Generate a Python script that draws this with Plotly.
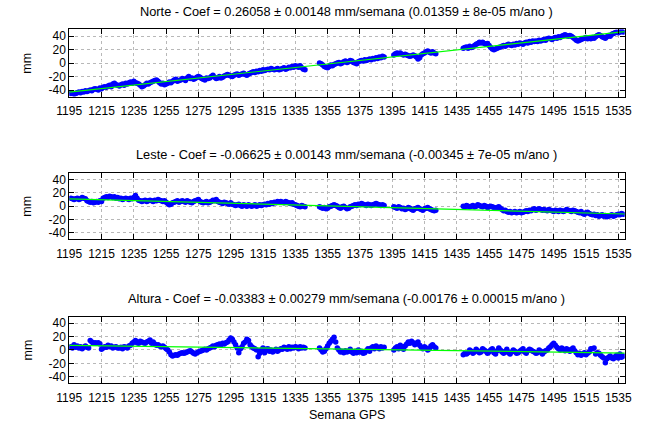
import plotly.graph_objects as go

# ---------------- data ----------------
seg_ranges = [(1196, 1341), (1350, 1390), (1396, 1422), (1439, 1538)]
weeks = []
for a, b in seg_ranges:
    weeks += list(range(a, b + 1))

norte = [
    -45,-44,-46,-45,-44,-43,-44,-42,-43,-41,
    -42,-41,-40,-41,-39,-38,-39,-40,-37,-38,
    -36,-35,-36,-34,-33,-35,-31,-30,-32,-33,
    -34,-32,-31,-33,-30,-31,-29,-28,-30,-27,
    -29,-30,-31,-33,-35,-34,-32,-30,-31,-29,
    -28,-27,-26,-25,-27,-29,-31,-30,-32,-31,
    -30,-28,-29,-27,-25,-24,-27,-26,-25,-23,
    -24,-26,-22,-20,-23,-22,-24,-23,-21,-20,
    -21,-23,-24,-25,-22,-23,-22,-20,-18,-21,
    -23,-22,-20,-22,-21,-19,-18,-17,-18,-19,
    -20,-18,-17,-16,-18,-17,-16,-15,-17,-18,
    -16,-15,-14,-13,-14,-12,-13,-11,-12,-10,
    -11,-10,-9,-10,-8,-9,-10,-9,-8,-10,
    -9,-8,-7,-9,-8,-6,-7,-5,-6,-4,
    -5,-6,-4,-7,-9,-10,
    # 1350-1390
    0,-1,-3,-5,-6,-7,-5,-3,-4,-2,
    -1,0,1,-1,0,2,3,1,2,4,
    3,1,0,-1,2,3,4,3,5,4,
    5,6,5,7,6,8,7,9,8,10,
    9,
    # 1396-1422
    12,14,15,14,15,13,12,13,12,11,
    10,11,12,11,9,6,8,12,14,15,
    17,18,16,15,17,15,14,
    # 1439-1538
    22,23,24,22,25,23,24,26,28,29,
    31,30,31,29,28,29,26,23,21,20,
    21,22,23,24,25,26,25,27,28,27,
    26,28,27,29,28,30,29,28,30,31,
    30,32,31,33,32,33,32,34,33,34,
    35,34,36,37,36,35,37,38,37,39,
    38,40,41,42,41,40,41,40,38,36,
    34,33,34,35,36,37,38,36,37,36,
    38,37,39,41,42,41,39,38,37,39,
    41,40,43,44,45,46,45,46,47,46,
]

leste = [
    12,11,10,11,12,10,11,13,12,11,
    8,7,6,7,5,6,7,6,8,7,
    12,13,14,13,15,14,13,14,12,13,
    11,12,10,11,12,11,10,12,11,13,
    16,12,9,8,7,8,9,7,8,9,
    8,7,9,8,10,9,8,7,8,6,
    4,2,3,5,6,7,8,6,7,8,
    7,6,8,7,6,5,7,8,9,10,
    7,6,5,6,7,5,6,7,9,8,
    10,7,6,5,4,6,5,4,3,5,
    3,2,1,2,3,1,0,2,1,0,
    2,1,0,1,2,0,1,2,1,2,
    3,2,4,3,5,4,6,5,7,6,
    7,6,5,7,6,5,4,5,3,2,
    1,0,-1,1,0,-1,
    # 1350-1390
    -1,-2,-3,-2,-4,-3,-1,0,1,2,
    1,0,-2,-3,-1,0,-2,-4,-3,-1,
    0,1,2,1,3,2,4,3,2,1,
    3,2,1,2,3,4,3,2,1,2,
    1,
    # 1396-1422
    -1,-2,-3,-1,-2,-4,-3,-5,-4,-2,
    -3,-5,-6,-4,-3,-2,-4,-5,-6,-4,
    -3,-2,-4,-5,-6,-7,-6,
    # 1439-1538
    0,-1,1,0,-1,0,1,-1,0,2,
    1,0,-1,1,0,-2,-1,0,-1,-2,
    -3,-2,-1,-3,-5,-7,-6,-8,-9,-8,
    -10,-9,-8,-10,-9,-8,-10,-9,-8,-7,
    -8,-6,-7,-5,-4,-6,-5,-4,-5,-6,
    -5,-6,-7,-5,-6,-7,-8,-6,-7,-8,
    -6,-7,-8,-7,-5,-6,-7,-8,-6,-7,
    -8,-9,-10,-8,-11,-12,-10,-9,-11,-12,
    -13,-12,-14,-13,-15,-14,-13,-15,-14,-16,
    -15,-14,-13,-15,-14,-13,-12,-13,-11,-12,
]

altura = [
    5,3,8,4,6,3,5,2,4,6,
    4,3,14,12,10,11,10,11,9,1,
    3,5,4,7,5,6,3,4,5,3,
    3,4,2,5,4,3,6,7,10,12,
    14,11,10,13,12,11,10,12,13,15,
    10,12,9,7,8,6,5,6,4,2,
    0,-3,-7,-9,-8,-7,-8,-6,-5,-4,
    -5,-4,-3,-2,-1,-3,-5,-6,-4,-3,
    -2,-1,0,1,0,2,3,4,6,5,
    7,8,9,8,10,9,11,12,15,18,
    16,12,8,3,-4,2,5,10,12,16,
    14,8,5,3,2,0,-10,-5,0,3,
    -4,1,2,-2,0,-3,-1,1,-2,0,
    2,1,4,3,1,5,2,4,3,5,
    4,2,5,3,4,3,
    # 1350-1390
    3,0,-3,-2,2,6,10,13,16,19,
    12,3,0,-3,-2,-4,-1,-3,-2,1,
    -3,-5,-2,-4,0,-3,-2,-5,-4,-1,
    2,-2,3,5,2,6,4,2,5,3,
    4,
    # 1396-1422
    0,3,5,2,7,4,1,6,9,12,
    10,13,11,8,10,12,7,4,2,5,
    3,0,2,6,8,5,3,
    # 1439-1538
    -7,-5,-6,-4,0,-2,-5,-3,1,-1,
    -4,-3,2,0,-2,-5,-3,0,2,-4,
    -6,-1,3,0,-3,-5,-2,1,-4,-6,
    -3,0,-2,-5,-4,-2,0,2,-3,-5,
    -1,1,0,-2,-3,-5,-4,0,-2,-6,
    -3,-1,0,3,5,8,10,7,4,2,
    0,3,1,-1,2,0,-2,1,3,-1,
    -4,-7,-5,-8,-6,-4,-7,-5,-3,2,
    2,3,-6,-4,-5,-8,-10,-12,-19,-13,
    -11,-9,-12,-13,-10,-8,-12,-6,-11,-9,
]

# fit: value at week 1195 and slope (mm/semana)
fit_start = [-43.0, 11.0, 7.0]
fit_slope = [0.26058, -0.06625, -0.03383]
fit_weeks = [1195, 1539]

titles = [
    "Norte - Coef = 0.26058 \u00b1 0.00148 mm/semana (0.01359 \u00b1 8e-05 m/ano )",
    "Leste - Coef = -0.06625 \u00b1 0.00143 mm/semana (-0.00345 \u00b1 7e-05 m/ano )",
    "Altura - Coef = -0.03383 \u00b1 0.00279 mm/semana (-0.00176 \u00b1 0.00015 m/ano )",
]
xticks = list(range(1195, 1536, 20))
yticks = [-40, -20, 0, 20, 40]

series = [norte, leste, altura]
for s in series:
    assert len(s) == len(weeks), (len(s), len(weeks))

# ---------------- figure ----------------
W, H = 655, 427
px_left, px_right = 58, 631
panel_px = [(29.5, 97), (173.3, 240), (317.3, 384.3)]  # top, bottom in px
title_px = [12, 155, 299]

FONT = "Liberation Sans, Arial, Helvetica, sans-serif"
TICK = 12
fig = go.Figure()

for i, vals in enumerate(series):
    xa = "x" if i == 0 else f"x{i+1}"
    ya = "y" if i == 0 else f"y{i+1}"
    fig.add_trace(go.Scatter(
        x=weeks, y=vals, mode="markers", xaxis=xa, yaxis=ya,
        marker=dict(color="#0000ff", size=5.5, symbol="circle", line=dict(width=0)),
        showlegend=False, hoverinfo="skip"))
    fy = [fit_start[i] + fit_slope[i] * (w - fit_weeks[0]) for w in fit_weeks]
    fig.add_trace(go.Scatter(
        x=fit_weeks, y=fy, mode="lines", xaxis=xa, yaxis=ya,
        line=dict(color="#00ff00", width=1.2),
        showlegend=False, hoverinfo="skip"))

layout = dict(
    width=W, height=H, margin=dict(l=0, r=0, t=0, b=0),
    paper_bgcolor="white", plot_bgcolor="white",
    font=dict(family=FONT, size=TICK, color="#000000"),
)
annotations = []
xdom = [px_left / W, px_right / W]
for i in range(3):
    top, bot = panel_px[i]
    ydom = [1 - bot / H, 1 - top / H]
    xk = "xaxis" if i == 0 else f"xaxis{i+1}"
    yk = "yaxis" if i == 0 else f"yaxis{i+1}"
    yref = "y" if i == 0 else f"y{i+1}"
    layout[xk] = dict(
        domain=xdom, range=[1195, 1539], anchor=yref,
        tickvals=xticks, ticktext=[str(t) for t in xticks],
        ticks="inside", ticklen=5, tickcolor="#000000",
        showline=True, linecolor="#000000", linewidth=1, mirror="ticks",
        showgrid=True, gridcolor="#b8b8b8", griddash="dot", gridwidth=1,
        zeroline=False, tickfont=dict(size=TICK, family=FONT),
        ticklabelstandoff=3,
    )
    layout[yk] = dict(
        domain=ydom, range=[-50, 50], anchor="x" if i == 0 else f"x{i+1}",
        tickvals=yticks, ticktext=[str(t) for t in yticks],
        ticks="inside", ticklen=5, tickcolor="#000000",
        showline=True, linecolor="#000000", linewidth=1, mirror="ticks",
        showgrid=True, gridcolor="#b8b8b8", griddash="dot", gridwidth=1,
        zeroline=False, tickfont=dict(size=TICK, family=FONT),
    )
    annotations.append(dict(
        text=titles[i], x=(px_left + px_right) / 2 / W, y=1 - title_px[i] / H,
        xref="paper", yref="paper", showarrow=False, xanchor="center", yanchor="middle",
        font=dict(size=12.8, family=FONT)))
    annotations.append(dict(
        text="mm", x=15 / W, y=1 - (top + bot) / 2 / H,
        xref="paper", yref="paper", showarrow=False, textangle=-90,
        xanchor="center", yanchor="middle", font=dict(size=12.5, family=FONT)))

annotations.append(dict(
    text="Semana GPS", x=(px_left + px_right) / 2 / W, y=1 - 416 / H,
    xref="paper", yref="paper", showarrow=False, xanchor="center", yanchor="middle",
    font=dict(size=12.5, family=FONT)))
layout["annotations"] = annotations
fig.update_layout(**layout)

fig.write_html("out.html",
               config={"displayModeBar": False, "staticPlot": True},
               post_script="document.body.style.margin='0';document.body.style.overflow='hidden';")
